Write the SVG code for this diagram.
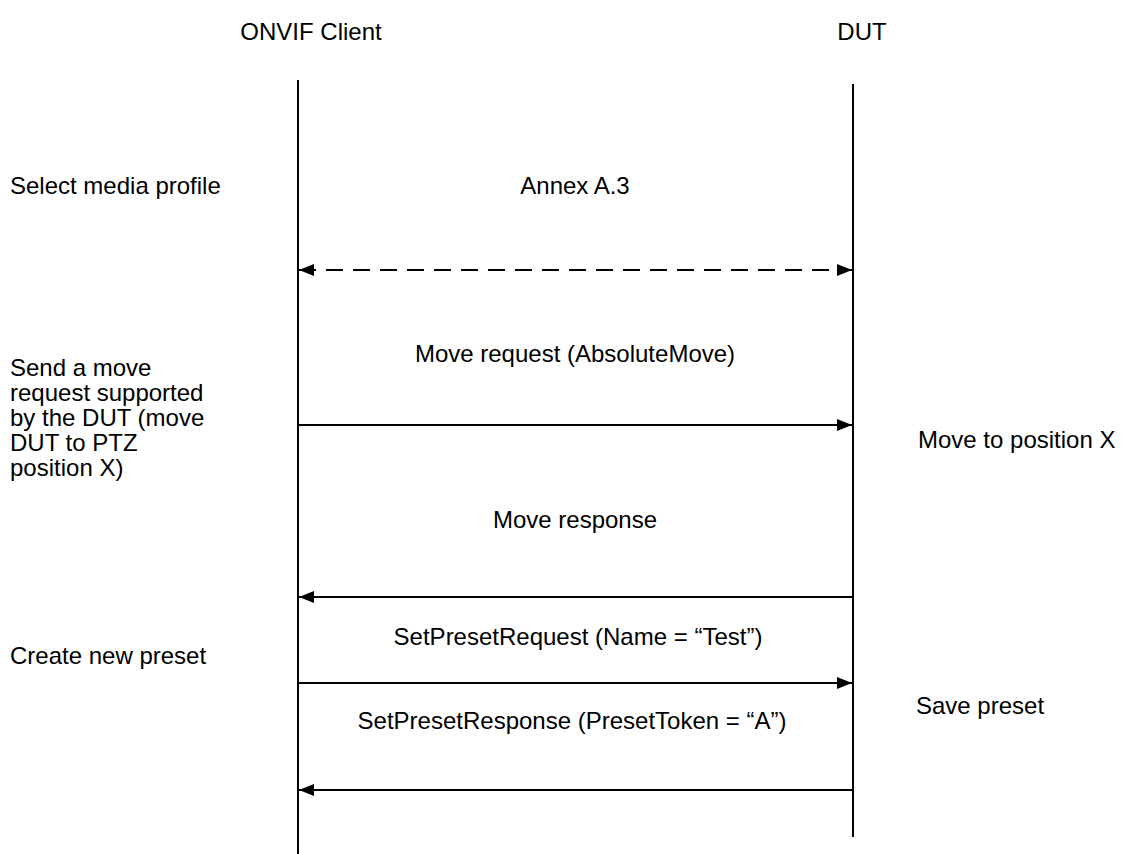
<svg xmlns="http://www.w3.org/2000/svg" width="1140" height="854" viewBox="0 0 1140 854">
  <style>
    text { font-family: "Liberation Sans", Arial, sans-serif; font-size: 24px; fill: #000; }
    .mid { text-anchor: middle; }
    .life { stroke: #000; stroke-width: 2; fill: none; }
    .msg { stroke: #000; stroke-width: 2; fill: none; }
    .dash { stroke-dasharray: 17 10; }
  </style>
  <defs>
    <marker id="head" viewBox="0 0 15 12" refX="15" refY="6" markerWidth="15" markerHeight="12" markerUnits="userSpaceOnUse" orient="auto-start-reverse">
      <path d="M0,0 L15,6 L0,12 Z" fill="#000"/>
    </marker>
  </defs>

  <!-- participants and their lifelines -->
  <g id="client">
    <text class="mid" x="311" y="40">ONVIF Client</text>
    <line class="life" x1="298" y1="80" x2="298" y2="854"/>
  </g>
  <g id="dut">
    <text class="mid" x="862" y="40">DUT</text>
    <line class="life" x1="853" y1="84" x2="853" y2="837"/>
  </g>

  <!-- step descriptions on the client side -->
  <g id="note-profile"><text x="10" y="194">Select media profile</text></g>
  <g id="note-move">
    <text x="10" y="376">Send a move</text>
    <text x="10" y="401">request supported</text>
    <text x="10" y="426">by the DUT (move</text>
    <text x="10" y="451">DUT to PTZ</text>
    <text x="10" y="476">position X)</text>
  </g>
  <g id="note-preset"><text x="10" y="664">Create new preset</text></g>

  <!-- device-side actions -->
  <g id="note-dut-move"><text x="918" y="448">Move to position X</text></g>
  <g id="note-dut-save"><text x="916" y="714">Save preset</text></g>

  <!-- messages between client and device -->
  <g id="connectors">
    <text class="mid" x="575" y="194">Annex A.3</text>
    <line class="msg dash" x1="299" y1="270" x2="852" y2="270" marker-start="url(#head)" marker-end="url(#head)"/>

    <text class="mid" x="575" y="362">Move request (AbsoluteMove)</text>
    <line class="msg" x1="298" y1="425" x2="852" y2="425" marker-end="url(#head)"/>

    <text class="mid" x="575" y="528">Move response</text>
    <line class="msg" x1="853" y1="597" x2="299" y2="597" marker-end="url(#head)"/>

    <text class="mid" x="578" y="645">SetPresetRequest (Name = “Test”)</text>
    <line class="msg" x1="298" y1="683" x2="852" y2="683" marker-end="url(#head)"/>

    <text class="mid" x="572" y="729">SetPresetResponse (PresetToken = “A”)</text>
    <line class="msg" x1="853" y1="790" x2="299" y2="790" marker-end="url(#head)"/>
  </g>
</svg>
